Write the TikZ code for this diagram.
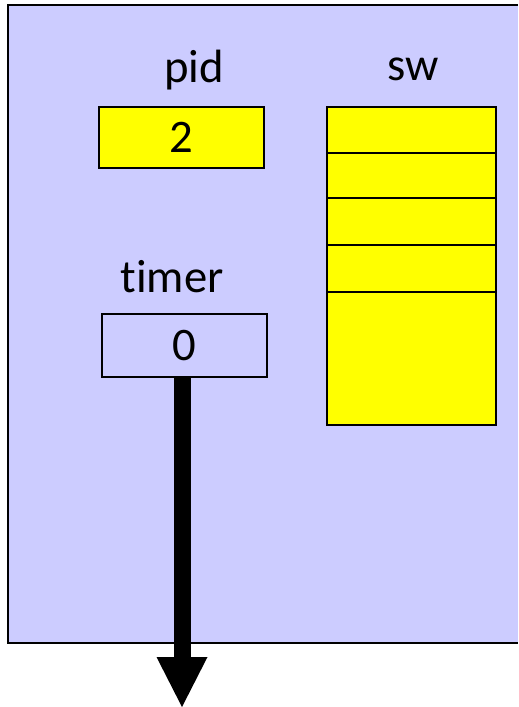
\documentclass[tikz,border=0pt]{standalone}
\usepackage{fontspec}
\setmainfont{Carlito}[Ligatures=NoCommon]
\usetikzlibrary{positioning,arrows.meta}
\definecolor{lavender}{RGB}{204,204,255}
\definecolor{cellyellow}{RGB}{255,255,0}
\tikzset{
  cell/.style={draw, line width=1.8pt, fill=cellyellow, outer sep=0pt, inner sep=0pt,
    minimum width=126.75pt, font=\fontsize{35pt}{42pt}\selectfont},
  lbl/.style={anchor=base, inner sep=0pt, font=\fontsize{35pt}{42pt}\selectfont},
  flow/.style={line width=12.75pt, -{Triangle[width=38.25pt,length=37.5pt,line width=0pt]}}
}
\begin{document}
\begin{tikzpicture}[x=0.75pt,y=-0.75pt]
    \useasboundingbox (0,0) rectangle (518,707);
    % back
    \fill[lavender] (8,5) rectangle (518,643);
    \draw[line width=1.8pt] (518,5) -- (8,5) -- (8,643) -- (518,643);

    % pid
    \node[lbl] (pidlbl) at (194,82) {pid};
    \node[cell, minimum width=123.75pt, minimum height=45.75pt] (pid) at (181.5,137.5) {2};

    % sw
    \node[lbl] (swlbl) at (413,80) {sw};
    \node[cell, minimum height=34.5pt] (sw1) at (411.5,130) {};
    \node[cell, minimum height=33.75pt, below=0pt of sw1] (sw2) {};
    \node[cell, minimum height=35.25pt, below=0pt of sw2] (sw3) {};
    \node[cell, minimum height=35.25pt, below=0pt of sw3] (sw4) {};
    \node[cell, minimum height=99.75pt, below=0pt of sw4] (sw5) {};

    % timer
    \node[lbl] (timerlbl) at (172,292) {timer};
    \node[cell, fill=lavender, minimum width=123.75pt, minimum height=47.25pt] (timer) at (184.5,345.5) {0};
    \coordinate (out) at (182,707);
    \draw[flow] (timer.south -| out) -- (out);
\end{tikzpicture}
\end{document}
